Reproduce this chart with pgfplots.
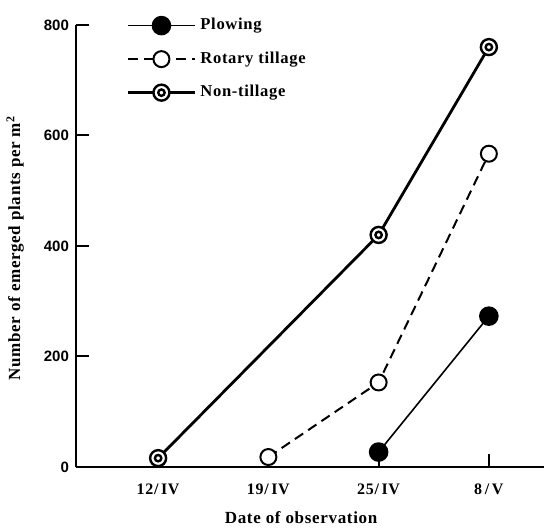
\documentclass[border=0pt]{standalone}
\usepackage{pgfplots}
\pgfplotsset{compat=1.18}
\usepackage{fontspec}
\setmainfont{Liberation Serif}[LetterSpace=4]
\setsansfont{Liberation Sans}
\pgfdeclareplotmark{dcirc}{%
  \pgfpathcircle{\pgfpointorigin}{\pgfplotmarksize}\pgfusepathqfillstroke
  \pgfpathcircle{\pgfpointorigin}{0.4\pgfplotmarksize}\pgfusepathqstroke}
\begin{document}
\begin{tikzpicture}
\begin{axis}[
  scale only axis, width=234pt, height=221pt,
  xmin=-0.745, xmax=3.5, ymin=0, ymax=800,
  axis x line=bottom, axis y line=left,
  axis line style={-, line width=1pt},
  xtick={0,1,2,3},
  xticklabels={12/\,IV,19/\,IV,25/\,IV,8\,/\,V},
  ytick={0,200,400,600,800},
  tick align=inside, major tick length=6.5pt,
  tick style={line width=1pt, black},
  /pgf/number format/assume math mode=true,
  yticklabel style={font=\sffamily\bfseries\fontsize{7.5}{8}\selectfont},
  xticklabel style={font=\bfseries\fontsize{8}{9}\selectfont, yshift=-5pt},
  xlabel={Date of observation},
  ylabel={Number of emerged plants per m\textsuperscript{2}},
  label style={font=\bfseries\fontsize{8.5}{10}\selectfont},
  xlabel style={at={(axis description cs:0.481,-0.115)}, anchor=center},
  ylabel style={at={(axis description cs:-0.130,0.495)}, anchor=center},
  legend style={at={(axis description cs:0.107,1.025)}, anchor=north west,
    draw=none, fill=none, inner sep=0pt, row sep=5.5pt,
    font=\bfseries\fontsize{8.3}{9}\selectfont, cells={anchor=west}},
  legend image code/.code={%
    \draw[mark repeat=2,mark phase=2] plot coordinates {(0cm,0cm)(0.59cm,0cm)(1.18cm,0cm)};},
  clip=false,
]
\addplot[black, line width=0.8pt, mark=*, mark size=4.5pt, mark options={solid, fill=black}]
  coordinates {(2,27) (3,273)};
\addlegendentry{Plowing}
\addplot[black, line width=1pt, dash pattern=on 5pt off 3pt, mark=*, mark size=4pt,
  mark options={solid, fill=white, line width=1pt}]
  coordinates {(1,18) (2,153) (3,567)};
\addlegendentry{Rotary tillage}
\addplot[black, line width=1.4pt, mark=dcirc, mark size=4pt,
  mark options={solid, fill=white, line width=1.2pt}]
  coordinates {(0,16) (2,420) (3,760)};
\addlegendentry{Non-tillage}
\coordinate (bl) at (rel axis cs:-0.1624,-0.138);
\coordinate (tr) at (rel axis cs:1,1.0566);
\end{axis}
\pgfresetboundingbox
\path (bl) rectangle (tr);
\end{tikzpicture}
\end{document}
